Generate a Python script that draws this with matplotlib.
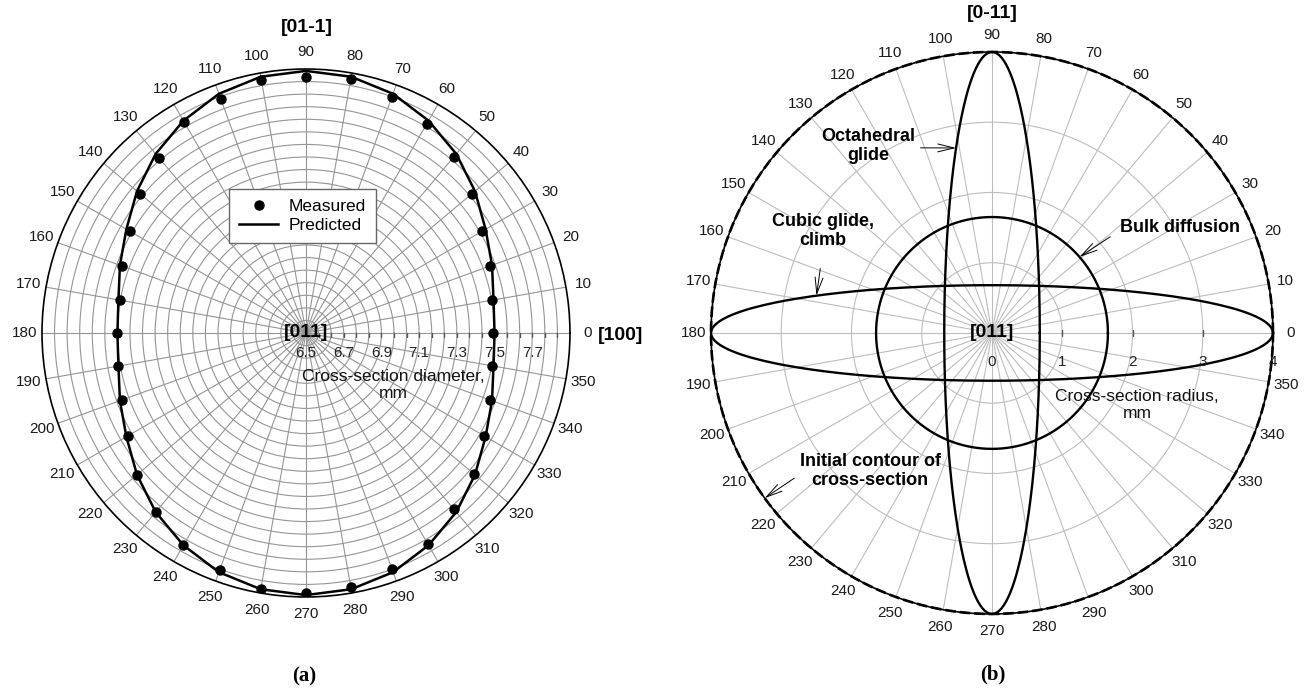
import numpy as np
import matplotlib
matplotlib.use("Agg")
import matplotlib.pyplot as plt
import matplotlib.transforms as mtransforms
from matplotlib.ticker import FixedLocator

plt.rcParams['font.family'] = ['Liberation Sans', 'DejaVu Sans']

W, H = 1314, 688

# ---- (a) cross-section diameter vs. direction, mm ----
ANGLES_A = np.arange(0, 360, 10)
MEASURED = [7.49, 7.50, 7.54, 7.58, 7.65, 7.72, 7.78, 7.83, 7.87,
            7.86, 7.86, 7.82, 7.79, 7.71, 7.65, 7.58, 7.54, 7.50,
            7.50, 7.51, 7.54, 7.59, 7.67, 7.74, 7.80, 7.84, 7.88,
            7.88, 7.87, 7.83, 7.79, 7.72, 7.66, 7.59, 7.54, 7.50]
PREDICTED = [7.50, 7.51, 7.55, 7.60, 7.67, 7.74, 7.80, 7.85, 7.88,
             7.89, 7.88, 7.85, 7.80, 7.74, 7.67, 7.60, 7.55, 7.51,
             7.50, 7.51, 7.55, 7.60, 7.67, 7.74, 7.80, 7.85, 7.88,
             7.89, 7.88, 7.85, 7.80, 7.74, 7.67, 7.60, 7.55, 7.51]
RLIM_A = (6.5, 7.9)
RLABELS_A = ["6.5", "6.7", "6.9", "7.1", "7.3", "7.5", "7.7"]
RMINOR_STEPS_A = 21          # grid circles between 6.5 and 7.9

# ---- (b) predicted cross-section contours, radius in mm ----
RLIM_B = (0, 4)
RLABELS_B = ["0", "1", "2", "3", "4"]
RGRID_B = [1, 2, 3]
INITIAL_R = 4.0
BULK_R = 1.65
CUBIC_SEMI = (4.0, 0.68)     # semi-axes along 0 deg and 90 deg
OCTA_SEMI = (0.68, 4.0)

THETA_TICKS = np.arange(0, 360, 10)


def ellipse_r(theta, a, b):
    return a * b / np.sqrt((b * np.cos(theta)) ** 2 + (a * np.sin(theta)) ** 2)


def fx(x):
    return x / W


def fy(y):
    return 1 - y / H


def setup_polar(ax, grid_color, rgrid, rlim):
    ax.set_thetagrids(THETA_TICKS, [str(a) for a in THETA_TICKS], fontsize=11)
    ax.set_rgrids(rgrid, labels=[""] * len(rgrid))
    ax.set_rlim(*rlim)
    ax.xaxis.grid(True, color=grid_color, lw=0.8)
    ax.yaxis.grid(True, color=grid_color, lw=0.8)
    ax.tick_params(axis='x', direction='out', length=4, width=0.9, pad=1.5,
                   labelcolor='#1a1a1a')
    ax.spines['polar'].set_linewidth(1.2)
    ax.set_facecolor('white')


fig = plt.figure(figsize=(W / 100, H / 100), dpi=100)

# ------------------------------ (a) ------------------------------
axa = fig.add_axes([0.03196, 0.1323, 0.4018, 0.7674], projection='polar')
rgrid_a = np.linspace(RLIM_A[0], RLIM_A[1], RMINOR_STEPS_A + 1)[1:-1]
setup_polar(axa, '#959595', rgrid_a, RLIM_A)
axa.xaxis.set_minor_locator(FixedLocator(np.deg2rad(np.arange(5, 360, 10))))
axa.tick_params(axis='x', which='minor', direction='out', length=2.5, width=0.8)

th_a = np.deg2rad(np.append(ANGLES_A, 360))
axa.plot(th_a, PREDICTED + PREDICTED[:1], color='black', lw=1.8,
         label='Predicted', zorder=4)
axa.plot(np.deg2rad(ANGLES_A), MEASURED, 'o', color='black', ms=6.5,
         label='Measured', zorder=5)

# radial tick marks and labels along the 0 deg ray
axa.plot(np.zeros(len(rgrid_a)), rgrid_a, ls='none', marker=3, ms=3,
         color='#555555', zorder=3)
rvals_a = [float(s) for s in RLABELS_A]
off_a = mtransforms.offset_copy(axa.transData, fig=fig, x=0, y=-20, units='dots')
for r, s in zip(rvals_a, RLABELS_A):
    axa.text(0, r, s, transform=off_a, ha='center', va='center', fontsize=11,
             color='#222222', zorder=6)

axa.text(0.5, 0.5, '[011]', transform=axa.transAxes, ha='center', va='center',
         fontsize=14, fontweight='bold', zorder=7)

h, l = axa.get_legend_handles_labels()
leg = fig.legend(h[::-1], l[::-1], loc='upper left',
                 bbox_to_anchor=(fx(229), fy(189)), bbox_transform=fig.transFigure,
                 borderaxespad=0, fancybox=False, edgecolor='#666666',
                 framealpha=1, fontsize=12.5, handlelength=2.3,
                 borderpad=0.55, labelspacing=0.25, handletextpad=0.6)
leg.get_frame().set_linewidth(1.0)

fig.text(fx(393), fy(385), 'Cross-section diameter,\nmm', ha='center',
         va='center', fontsize=12.5, color='#111111')
fig.text(fx(307), fy(27), '[01-1]', ha='center', va='center', fontsize=14,
         fontweight='bold')
fig.text(fx(621), fy(335), '[100]', ha='center', va='center', fontsize=14,
         fontweight='bold')
fig.text(fx(304), fy(676), '(a)', ha='center', va='center', fontsize=15,
         fontweight='bold', family='Liberation Serif')

# ------------------------------ (b) ------------------------------
axb = fig.add_axes([0.5411, 0.1076, 0.4277, 0.8169], projection='polar')
setup_polar(axb, '#bdbdbd', RGRID_B, RLIM_B)

th = np.linspace(0, 2 * np.pi, 721)
axb.plot(th, np.full_like(th, INITIAL_R), color='black', lw=1.9,
         ls=(0, (4, 1.5)), clip_on=False, zorder=4)
axb.plot(th, np.full_like(th, BULK_R), color='black', lw=1.7, zorder=4)
axb.plot(th, ellipse_r(th, *CUBIC_SEMI), color='black', lw=1.7,
         clip_on=False, zorder=4)
axb.plot(th, ellipse_r(th, *OCTA_SEMI), color='black', lw=1.7,
         clip_on=False, zorder=4)

axb.plot(np.zeros(len(RGRID_B)), RGRID_B, ls='none', marker='|', ms=5,
         color='#555555', zorder=3)
off_b = mtransforms.offset_copy(axb.transData, fig=fig, x=0, y=-29, units='dots')
for s in RLABELS_B:
    axb.text(0, float(s), s, transform=off_b, ha='center', va='center',
             fontsize=11, color='#222222', zorder=6)

axb.text(0.5, 0.5, '[011]', transform=axb.transAxes, ha='center', va='center',
         fontsize=14, fontweight='bold', zorder=7)

arrow = dict(arrowstyle='->,head_length=0.9,head_width=0.22', lw=0.7,
             color='black', shrinkB=0)
notes = [
    ('Octahedral\nglide', 101, ellipse_r(np.deg2rad(101), *OCTA_SEMI),
     (868, 146), (1, 0.45), 2),
    ('Cubic glide,\nclimb', 168, ellipse_r(np.deg2rad(168), *CUBIC_SEMI),
     (823, 231), (0.5, 0), 12),
    ('Bulk diffusion', 41, BULK_R, (1180, 227), (0, 0.3), 6),
    ('Initial contour of\ncross-section', 216, INITIAL_R,
     (870, 471), (0, 0.4), 2),
]
for text, ang, r, (tx, ty), relpos, shrink in notes:
    ap = dict(arrow, relpos=relpos, shrinkA=shrink)
    axb.annotate(text, xy=(np.deg2rad(ang), r), xycoords='data',
                 xytext=(fx(tx), fy(ty)), textcoords='figure fraction',
                 ha='center', va='center', fontsize=13, fontweight='bold',
                 arrowprops=ap, annotation_clip=False, zorder=8)

fig.text(fx(1137), fy(405), 'Cross-section radius,\nmm', ha='center',
         va='center', fontsize=12.5, color='#111111')
fig.text(fx(992), fy(13), '[0-11]', ha='center', va='center', fontsize=14,
         fontweight='bold')
fig.text(fx(993), fy(674), '(b)', ha='center', va='center', fontsize=15,
         fontweight='bold', family='Liberation Serif')

fig.savefig('out.png', dpi=100, facecolor='white')
